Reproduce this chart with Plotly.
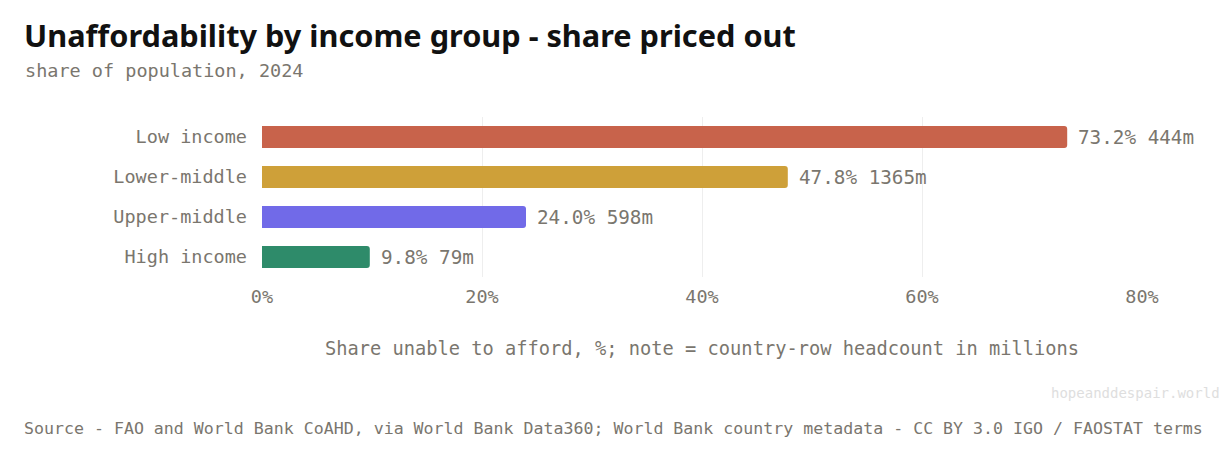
import plotly.graph_objects as go

# income groups, top to bottom as shown
GROUPS = ["Low income", "Lower-middle", "Upper-middle", "High income"]
SHARE_PCT = [73.2, 47.8, 24.0, 9.8]          # share unable to afford
HEADCOUNT_M = [444, 1365, 598, 79]           # headcount, millions
COLORS = ["#c8634b", "#cea039", "#716ae8", "#2e8b6a"]
X_TICKS = [0, 20, 40, 60, 80]
X_TICK_TEXT = ["0%", "20%", "40%", "60%", "80%"]

# the page puts the figure 8px in from the top-left corner
OFF = 8
W, H = 1227 - 2 * OFF, 451 - 2 * OFF
PLOT_L, PLOT_R, PLOT_T, PLOT_B = 262, 1142, 117, 277    # target pixels on screen
L, T = PLOT_L - OFF, PLOT_T - OFF
R, B = OFF + W - PLOT_R, OFF + H - PLOT_B
PLOT_W, PLOT_H = PLOT_R - PLOT_L, PLOT_B - PLOT_T

MONO = "DejaVu Sans Mono, monospace"
GREY = "#7a766e"
FS = 18.5


def px_x(x):
    return (x - PLOT_L) / PLOT_W


def px_y(y):
    return (PLOT_B - y) / PLOT_H


fig = go.Figure(go.Bar(
    x=SHARE_PCT, y=GROUPS, orientation="h",
    marker=dict(color=COLORS, line=dict(width=0)),
    hoverinfo="skip"))

# value labels just past each bar end
bar_notes = [dict(x=s, y=g, text=f"{s:.1f}% {n}m", xref="x", yref="y",
                  xanchor="left", yanchor="middle", xshift=9, showarrow=False,
                  font=dict(family=MONO, size=19.3, color=GREY))
             for g, s, n in zip(GROUPS, SHARE_PCT, HEADCOUNT_M)]

fig.update_layout(
    width=W, height=H, paper_bgcolor="white", plot_bgcolor="white",
    margin=dict(l=L, r=R, t=T, b=B, autoexpand=False),
    bargap=0.45, barcornerradius=3, showlegend=False,
    font=dict(family=MONO, color=GREY, size=FS),
    xaxis=dict(range=[0, 80], tickvals=X_TICKS, ticktext=X_TICK_TEXT,
               showgrid=True, gridcolor="#eeeeee", gridwidth=1, zeroline=False,
               showline=False, ticks="", ticklabelstandoff=6,
               tickfont=dict(family=MONO, size=FS, color=GREY),
               title=dict(text="Share unable to afford, %; note = country-row headcount in millions",
                          font=dict(family=MONO, size=18.7, color=GREY), standoff=36)),
    yaxis=dict(autorange="reversed", showgrid=False, zeroline=False, showline=False,
               ticks="", ticklabelstandoff=14,
               tickfont=dict(family=MONO, size=FS, color=GREY)),
    annotations=bar_notes + [
        dict(text="<b>Unaffordability by income group - share priced out</b>",
             xref="paper", yref="paper", x=px_x(22), y=px_y(35),
             xanchor="left", yanchor="middle", showarrow=False,
             font=dict(family="Noto Sans, sans-serif", size=30.7, color="#111111")),
        dict(text="share of population, 2024",
             xref="paper", yref="paper", x=px_x(23), y=px_y(71),
             xanchor="left", yanchor="middle", showarrow=False,
             font=dict(family=MONO, size=FS, color=GREY)),
        dict(text="hopeanddespair.world",
             xref="paper", yref="paper", x=px_x(1222), y=px_y(393),
             xanchor="right", yanchor="middle", showarrow=False,
             font=dict(family=MONO, size=14, color="#dedede")),
        dict(text="Source - FAO and World Bank CoAHD, via World Bank Data360; World Bank country metadata - CC BY 3.0 IGO / FAOSTAT terms",
             xref="paper", yref="paper", x=px_x(22), y=px_y(428),
             xanchor="left", yanchor="middle", showarrow=False,
             font=dict(family=MONO, size=16.6, color=GREY)),
    ])

fig.write_html("out.html")
